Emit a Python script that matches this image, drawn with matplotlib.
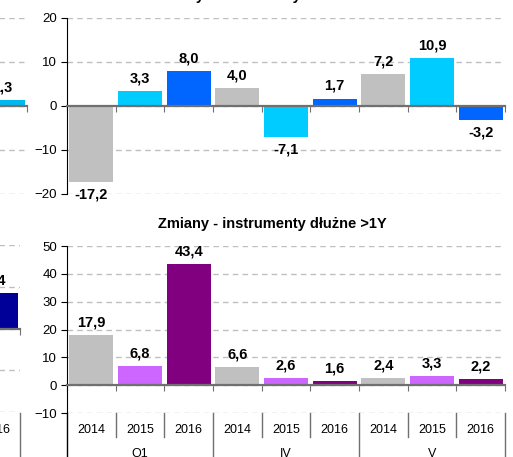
import matplotlib.pyplot as plt
from matplotlib.lines import Line2D
from matplotlib.transforms import blended_transform_factory

plt.rcParams['font.family'] = ['Liberation Sans', 'DejaVu Sans']

# data
years = ['2014', '2015', '2016'] * 3
groups = ['Q1', 'IV', 'V']
short_vals = [-17.2, 3.3, 8.0, 4.0, -7.1, 1.7, 7.2, 10.9, -3.2]
long_vals = [17.9, 6.8, 43.4, 6.6, 2.6, 1.6, 2.4, 3.3, 2.2]
short_colors = ['#C0C0C0', '#00CCFF', '#0066FF'] * 3
long_colors = ['#C0C0C0', '#CC66FF', '#800080'] * 3
# pieces of the neighbouring charts on the left (cut by the crop)
left_top_val = [1.3]
left_bottom_val = [8.4]

W, H = 513, 457
fig = plt.figure(figsize=(W / 100, H / 100), dpi=100)


def px_axes(x0, y0, x1, y1):
    # rectangle in pixels (top-left origin) -> figure axes
    return fig.add_axes([x0 / W, 1 - y1 / H, (x1 - x0) / W, (y1 - y0) / H])


def fmt(v):
    return f"{v:.1f}".replace('.', ',')


def style(ax, ylim, step, show_left=True):
    ax.set_ylim(*ylim)
    ax.set_yticks(range(ylim[0], ylim[1] + 1, step))
    ax.yaxis.grid(True, color='#BFBFBF', linestyle=(0, (4, 3)), lw=1)
    ax.set_axisbelow(True)
    for s in ['top', 'right']:
        ax.spines[s].set_visible(False)
    ax.spines['bottom'].set_position(('data', 0))
    ax.spines['bottom'].set_color('#707070')
    ax.spines['bottom'].set_linewidth(1.6)
    ax.spines['bottom'].set_zorder(4)
    ax.tick_params(axis='x', direction='out', length=4, color='#707070',
                   labelbottom=False)
    ax.tick_params(axis='y', direction='out', length=4, labelsize=9.5,
                   pad=3)
    if show_left:
        ax.spines['left'].set_color('black')
    else:
        ax.spines['left'].set_visible(False)
        ax.tick_params(axis='y', left=False, labelleft=False)


def labels(ax, bars, vals):
    ax.bar_label(bars, labels=[fmt(v) for v in vals], padding=4,
                 fontsize=10.5, fontweight='bold')


x = list(range(len(years)))
bounds = [i + 0.5 for i in range(-1, len(years))]

# top chart
ax1 = px_axes(67, 18, 505, 194)
b1 = ax1.bar(x, short_vals, width=0.9, color=short_colors)
labels(ax1, b1, short_vals)
ax1.set_xlim(-0.5, 8.5)
ax1.set_xticks(bounds)
style(ax1, (-20, 20), 10)

# bottom chart
ax2 = px_axes(67, 246, 505, 413)
b2 = ax2.bar(x, long_vals, width=0.9, color=long_colors)
labels(ax2, b2, long_vals)
ax2.set_xlim(-0.5, 8.5)
ax2.set_xticks(bounds)
style(ax2, (-10, 50), 10)

# multi-level category axis under the bottom chart
tr = blended_transform_factory(ax2.transData, fig.transFigure)
y_top = 1 - 413 / H
y_mid = 1 - 437 / H
for b in bounds:
    end = 0 if (b + 0.5) % 3 == 0 else y_mid
    col = 'black' if b == -0.5 else '#707070'
    fig.add_artist(Line2D([b, b], [y_top, end], transform=tr, color=col,
                          lw=1, clip_on=False))
for i, yr in enumerate(years):
    fig.text(i, 1 - 430 / H, yr, transform=tr, ha='center', va='center',
             fontsize=9)
for g, name in enumerate(groups):
    fig.text(g * 3 + 1, 1 - 454 / H, name, transform=tr, ha='center',
             va='center', fontsize=9)

# left pieces of other charts
ax3 = px_axes(-21.7, 18, 27, 194)
b3 = ax3.bar([0], left_top_val, width=0.9, color='#00B8F0')
labels(ax3, b3, left_top_val)
ax3.set_xlim(-0.5, 0.5)
ax3.set_xticks([0.5])
style(ax3, (-20, 20), 10, show_left=False)

ax4 = px_axes(-28.4, 245, 20.3, 412)
b4 = ax4.bar([0], left_bottom_val, width=0.9, color='#000099')
labels(ax4, b4, left_bottom_val)
ax4.set_xlim(-0.5, 0.5)
ax4.set_xticks([0.5])
style(ax4, (-20, 20), 10, show_left=False)
tr4 = blended_transform_factory(ax4.transData, fig.transFigure)
fig.add_artist(Line2D([0.5, 0.5], [y_top, 0], transform=tr4,
                      color='#707070', lw=1, clip_on=False))
fig.text(0, 1 - 430 / H, '2016', transform=tr4, ha='center', va='center',
         fontsize=9)

# titles
fig.text(267.5 / W, 1.0, 'Zmiany - instrumenty dłużne <1Y', ha='center',
         va='baseline', fontsize=10.5, fontweight='bold')
fig.text(272 / W, 1 - 228 / H, 'Zmiany - instrumenty dłużne >1Y',
         ha='center', va='baseline', fontsize=10.5, fontweight='bold')

fig.savefig('out.png', dpi=100)
